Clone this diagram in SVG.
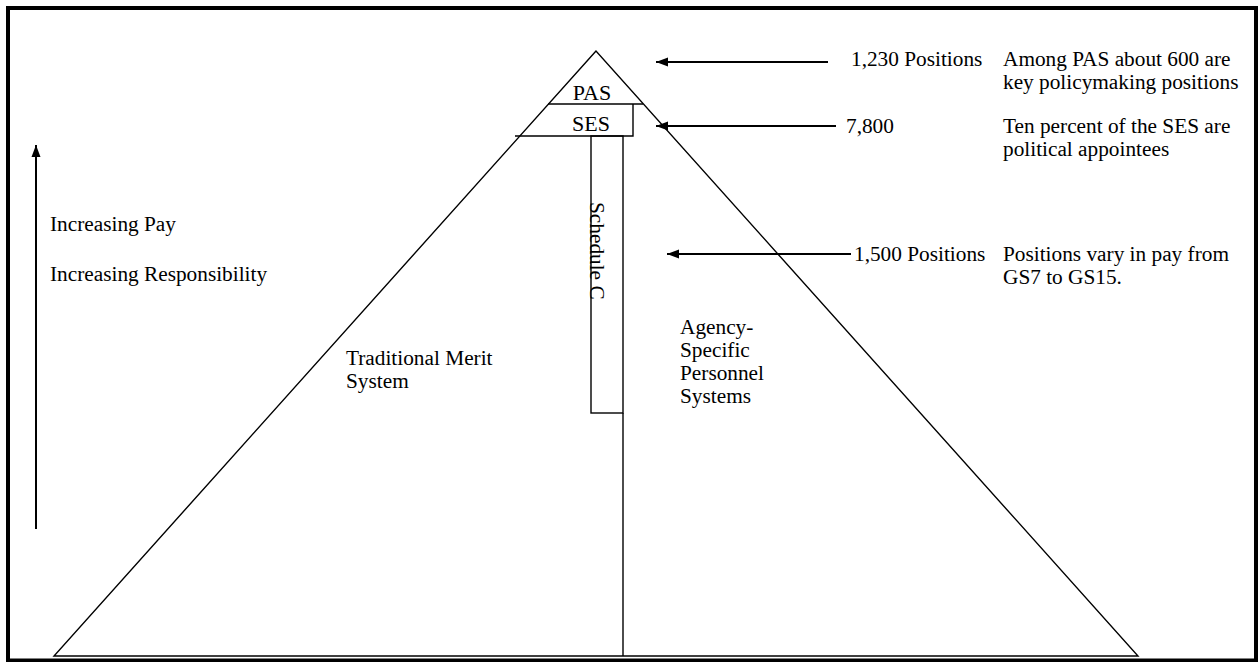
<svg xmlns="http://www.w3.org/2000/svg" width="1259" height="662" viewBox="0 0 1259 662">
<style>
text { font-family: "Liberation Serif", "Times New Roman", serif; font-size: 21.3px; fill: #000; }
.ln { stroke: #000; stroke-width: 1.4; fill: none; }
.arr { stroke: #000; stroke-width: 2; fill: none; marker-end: url(#ah); }
.mid { text-anchor: middle; font-size: 22px; }
</style>
<defs>
<marker id="ah" markerUnits="userSpaceOnUse" markerWidth="13" markerHeight="10" refX="12" refY="5" orient="auto">
<path d="M0,0.5 L12,5 L0,9.5 z" fill="#000"/>
</marker>
</defs>
<rect x="0" y="0" width="1259" height="662" fill="#fff"/>
<rect id="frame" x="8" y="8" width="1248" height="652.5" fill="none" stroke="#000" stroke-width="4"/>
<g id="pyramid">
<polygon class="ln" points="596,51 54,656 1138,656"/>
</g>
<g id="pas">
<line class="ln" x1="548" y1="104" x2="643" y2="104"/>
<text class="mid" x="592" y="100">PAS</text>
</g>
<g id="ses">
<polyline class="ln" points="633,104 633,136 515,136"/>
<text class="mid" x="591" y="131">SES</text>
</g>
<g id="schedule-c">
<rect class="ln" x="591" y="136" width="32" height="277"/>
<line class="ln" x1="623" y1="413" x2="623" y2="656"/>
<text transform="translate(590,202) rotate(90)">Schedule C</text>
</g>
<g id="traditional-merit">
<text x="346" y="365">Traditional Merit</text>
<text x="346" y="388">System</text>
</g>
<g id="agency-specific">
<text x="680" y="334">Agency-</text>
<text x="680" y="357">Specific</text>
<text x="680" y="380">Personnel</text>
<text x="680" y="403">Systems</text>
</g>
<g id="increasing">
<text x="50" y="231">Increasing Pay</text>
<text x="50" y="281">Increasing Responsibility</text>
</g>
<g id="pas-note">
<text x="851" y="66">1,230 Positions</text>
<text x="1003" y="66">Among PAS about 600 are</text>
<text x="1003" y="89">key policymaking positions</text>
</g>
<g id="ses-note">
<text x="846" y="133">7,800</text>
<text x="1003" y="133">Ten percent of the SES are</text>
<text x="1003" y="156">political appointees</text>
</g>
<g id="schedule-c-note">
<text x="854" y="261">1,500 Positions</text>
<text x="1003" y="261">Positions vary in pay from</text>
<text x="1003" y="284">GS7 to GS15.</text>
</g>
<g id="connectors">
<line class="arr" x1="828" y1="62" x2="656" y2="62"/>
<line class="arr" x1="836" y1="126" x2="656" y2="126"/>
<line class="arr" x1="851" y1="254" x2="667" y2="254"/>
<line class="arr" x1="36" y1="529" x2="36" y2="145"/>
</g>
</svg>
